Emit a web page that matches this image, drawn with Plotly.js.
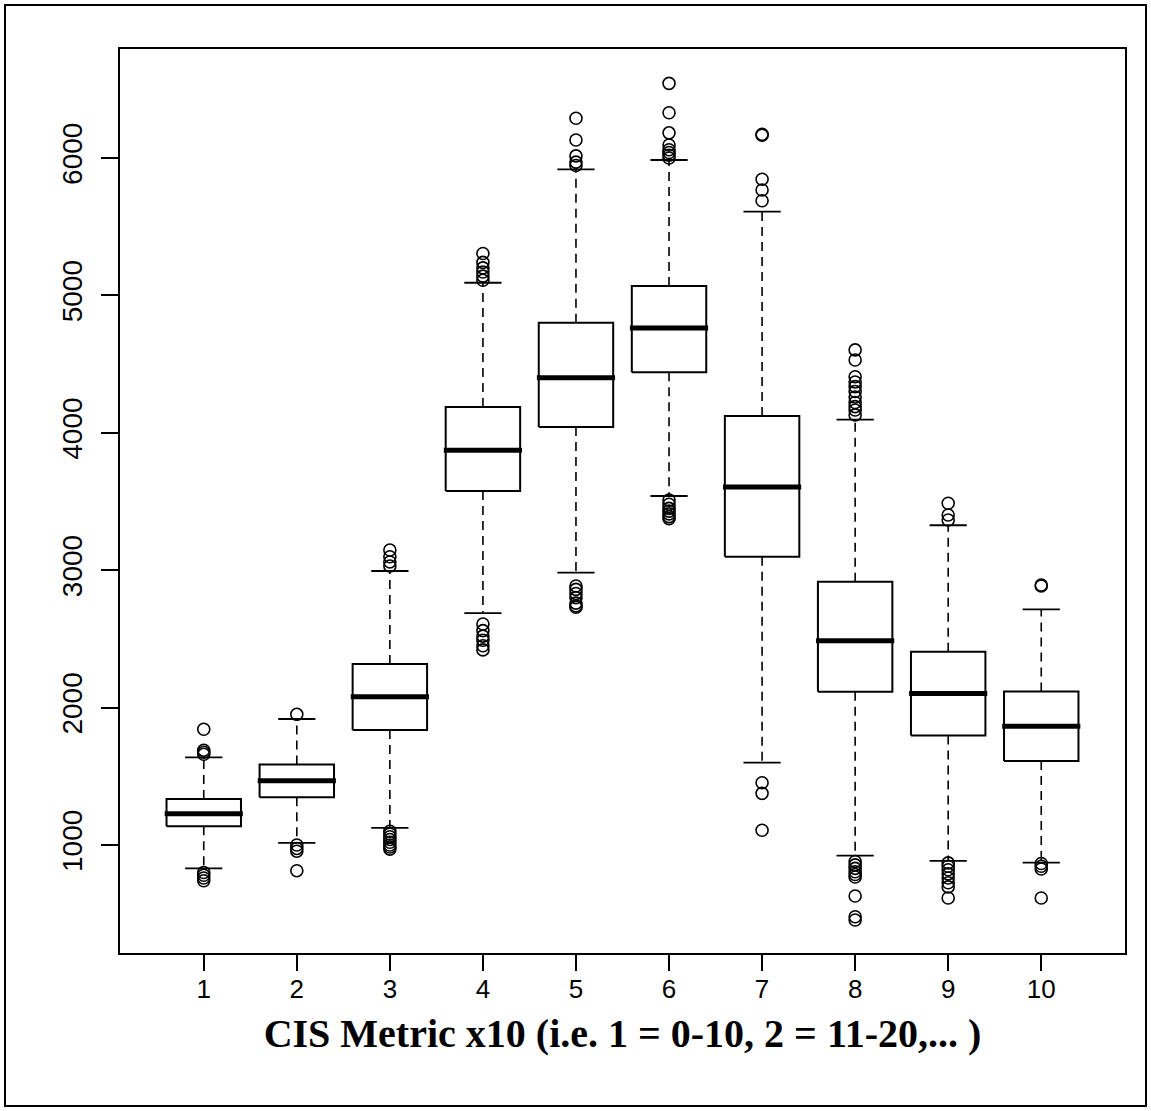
<!DOCTYPE html>
<html>
<head>
<meta charset="utf-8">
<script src="https://cdn.plot.ly/plotly-3.0.1.min.js"></script>
<style>
  html, body { margin: 0; padding: 0; background: #ffffff; }
  #chart { width: 1151px; height: 1111px; }
</style>
</head>
<body>
<div id="chart"></div>
<script>
// ---- Data ----
const categories = [1, 2, 3, 4, 5, 6, 7, 8, 9, 10];
const tickLabels = ["1", "2", "3", "4", "5", "6", "7", "8", "9", "10"];
const q1Values     = [1136, 1347, 1837, 3577, 4042, 4441, 3097, 2116, 1797, 1611];
const medianValues = [1228, 1467, 2079, 3873, 4401, 4763, 3606, 2487, 2103, 1864];
const q3Values     = [1335, 1586, 2317, 4188, 4801, 5068, 4122, 2916, 2407, 2118];
const lowerWhisker = [830, 1015, 1124, 2688, 2982, 3540, 1599, 922, 884, 871];
const upperWhisker = [1638, 1917, 2994, 5092, 5917, 5985, 5609, 4096, 3327, 2715];
const outliers1  = [1842, 1690, 1675, 1660, 800, 780, 760, 740];
const outliers2  = [1951, 1000, 975, 955, 813];
const outliers3  = [3147, 3098, 3060, 3030, 1100, 1080, 1060, 1040, 1020, 1000, 985, 970];
const outliers4  = [5305, 5240, 5200, 5170, 5140, 5110, 2608, 2560, 2520, 2490, 2450, 2420];
const outliers5  = [6289, 6131, 6015, 5970, 5945, 2885, 2860, 2830, 2800, 2760, 2740, 2730];
const outliers6  = [6543, 6329, 6183, 6094, 6060, 6040, 6020, 6000, 3510, 3480, 3450, 3430, 3410, 3390, 3375];
const outliers7  = [6172, 6165, 5845, 5767, 5689, 1453, 1376, 1107];
const outliers8  = [4603, 4530, 4408, 4370, 4336, 4300, 4260, 4220, 4190, 4166, 4130, 880, 855, 830, 805, 785, 767, 629, 478, 454];
const outliers9  = [3487, 3402, 3365, 870, 845, 820, 790, 760, 725, 695, 614];
const outliers10 = [2892, 2885, 865, 845, 825, 614];
const outlierGroups = [outliers1, outliers2, outliers3, outliers4, outliers5,
                       outliers6, outliers7, outliers8, outliers9, outliers10];
const yTickValues = [1000, 2000, 3000, 4000, 5000, 6000];
const yTickLabels = ["1000", "2000", "3000", "4000", "5000", "6000"];
const xTitle = "CIS Metric x10 (i.e. 1 = 0-10, 2 = 11-20,... )";

// ---- Build traces from the arrays ----
const boxHalf = 0.4, capHalf = 0.2;
const wx = [], wy = [], cx = [], cy = [], bx = [], by = [], mx = [], my = [], ox = [], oy = [];
categories.forEach((c, i) => {
  wx.push(c, c, null, c, c, null);
  wy.push(q3Values[i], upperWhisker[i], null, q1Values[i], lowerWhisker[i], null);
  cx.push(c - capHalf, c + capHalf, null, c - capHalf, c + capHalf, null);
  cy.push(upperWhisker[i], upperWhisker[i], null, lowerWhisker[i], lowerWhisker[i], null);
  bx.push(c - boxHalf, c + boxHalf, c + boxHalf, c - boxHalf, c - boxHalf, null);
  by.push(q1Values[i], q1Values[i], q3Values[i], q3Values[i], q1Values[i], null);
  mx.push(c - boxHalf - 0.02, c + boxHalf + 0.02, null);
  my.push(medianValues[i], medianValues[i], null);
  outlierGroups[i].forEach(v => { ox.push(c); oy.push(v); });
});

const black = "#000000";
const traces = [
  { type: "scatter", mode: "lines", x: wx, y: wy, hoverinfo: "skip",
    line: { color: black, width: 1.6, dash: "9px,6px" }, showlegend: false },
  { type: "scatter", mode: "lines", x: cx, y: cy, hoverinfo: "skip",
    line: { color: black, width: 1.8 }, showlegend: false },
  { type: "scatter", mode: "lines", x: bx, y: by, hoverinfo: "skip",
    line: { color: black, width: 2 }, showlegend: false },
  { type: "scatter", mode: "lines", x: mx, y: my, hoverinfo: "skip",
    line: { color: black, width: 5 }, showlegend: false },
  { type: "scatter", mode: "markers", x: ox, y: oy, hoverinfo: "skip",
    marker: { symbol: "circle-open", size: 12, color: black, line: { width: 1.6, color: black } },
    showlegend: false }
];

const W = 1151, H = 1111;
const mL = 120, mR = 26, mT = 49, mB = 158;
const pw = W - mL - mR, ph = H - mT - mB;
const px = p => (p - mL) / pw;
const py = p => (H - mB - p) / ph;

const layout = {
  width: W, height: H,
  margin: { l: mL, r: mR, t: mT, b: mB, pad: 0 },
  paper_bgcolor: "#ffffff", plot_bgcolor: "#ffffff",
  showlegend: false,
  font: { family: "Liberation Sans, Arial, sans-serif", color: black },
  xaxis: {
    range: [0.1, 10.9],
    tickmode: "array", tickvals: categories, ticktext: tickLabels,
    showgrid: false, zeroline: false,
    showline: true, mirror: true, linecolor: black, linewidth: 2,
    ticks: "outside", ticklen: 16, tickwidth: 2, tickcolor: black,
    tickfont: { size: 26, color: black, family: "Liberation Sans, Arial, sans-serif" },
    ticklabelstandoff: -4,
    title: { text: xTitle, standoff: 16,
             font: { family: "Liberation Serif, Times New Roman, serif", size: 40, weight: "bold", color: black } }
  },
  yaxis: {
    range: [214, 6793],
    tickmode: "array", tickvals: yTickValues, ticktext: yTickLabels,
    showgrid: false, zeroline: false,
    showline: true, mirror: true, linecolor: black, linewidth: 2,
    ticks: "outside", ticklen: 17, tickwidth: 2, tickcolor: black,
    tickangle: -90,
    tickfont: { size: 28, color: black, family: "Liberation Sans, Arial, sans-serif" },
    ticklabelstandoff: 8
  },
  shapes: [
    { type: "rect", xref: "paper", yref: "paper",
      x0: px(5), x1: px(1146), y0: py(1106), y1: py(5),
      line: { color: black, width: 2 }, fillcolor: "rgba(0,0,0,0)", layer: "above" }
  ]
};

Plotly.newPlot("chart", traces, layout, { staticPlot: true, displayModeBar: false });
</script>
</body>
</html>
